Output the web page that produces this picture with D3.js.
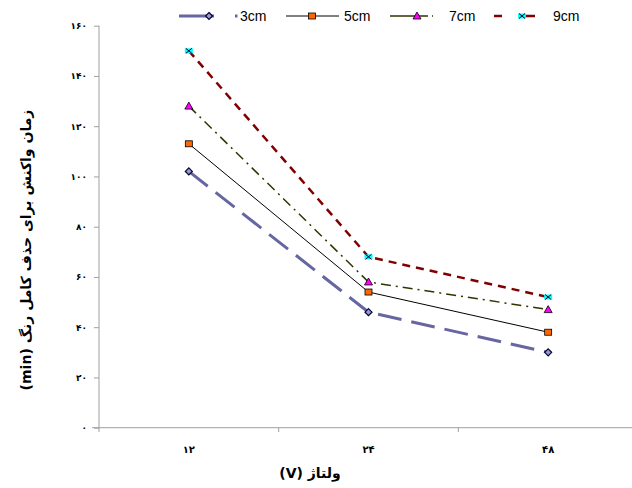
<!DOCTYPE html>
<html><head><meta charset="utf-8">
<script src="https://cdn.jsdelivr.net/npm/d3@7"></script>
<style>body{margin:0;background:#fff}svg{display:block}</style>
</head><body>
<svg id="c" width="632" height="488"></svg>
<script>
const categories = ["۱۲", "۲۴", "۴۸"];
const seriesNames = ["3cm", "5cm", "7cm", "9cm"];
const s3 = [102, 46, 30];
const s5 = [113, 54, 38];
const s7 = [128, 58, 47];
const s9 = [150, 68, 52];
const yTicks = [0, 20, 40, 60, 80, 100, 120, 140, 160];
const yTickLabels = ["٠", "۲٠", "۴٠", "۶٠", "۸٠", "۱٠٠", "۱۲٠", "۱۴٠", "۱۶٠"];
const yTitle = "زمان واکنش برای حذف کامل رنگ (min)";
const xTitle = "ولتاژ (V)";

const series = [
  {name: seriesNames[0], values: s3, color: "#6666a0", width: 3, dash: "24,10", marker: "diamond"},
  {name: seriesNames[1], values: s5, color: "#000000", width: 1, dash: null, marker: "square"},
  {name: seriesNames[2], values: s7, color: "#333300", width: 1.5, dash: "10,5,2,5", marker: "triangle"},
  {name: seriesNames[3], values: s9, color: "#800000", width: 2.5, dash: "8,6", marker: "x"}
];

const svg = d3.select("#c");
const x = d3.scaleBand().domain(categories).range([99, 638]);
const y = d3.scaleLinear().domain([0, 160]).range([427.7, 25.7]);

// axes
const gx = svg.append("g").attr("transform", "translate(0,427.7)")
  .call(d3.axisBottom(x).tickSize(0).tickFormat(""));
gx.select(".domain").attr("stroke", "#a0a0a0").attr("d", "M92,0H632");
svg.append("g").selectAll("line").data(categories).join("line")
  .attr("x1", d => x(d) + x.bandwidth()).attr("x2", d => x(d) + x.bandwidth())
  .attr("y1", 427.7).attr("y2", 432).attr("stroke", "#a0a0a0");
svg.append("g").selectAll("text").data(categories).join("text")
  .attr("x", d => x(d) + x.bandwidth() / 2).attr("y", 453)
  .attr("text-anchor", "middle").attr("font-family", "DejaVu Sans, sans-serif")
  .attr("font-size", 10).attr("font-weight", "bold").text(d => d);

const gy = svg.append("g").attr("transform", "translate(99,0)")
  .call(d3.axisLeft(y).tickValues(yTicks).tickSize(5).tickFormat((d, i) => yTickLabels[i]));
gy.select(".domain").attr("stroke", "#a0a0a0").attr("d", "M0,25.7V432");
gy.selectAll(".tick line").attr("stroke", "#a0a0a0");
gy.selectAll(".tick text").attr("x", -12).attr("font-family", "DejaVu Sans, sans-serif")
  .attr("font-size", 9).attr("font-weight", "bold").attr("fill", "#000");

// titles
svg.append("text").attr("transform", "translate(31,250) rotate(-90)")
  .attr("text-anchor", "middle").attr("direction", "rtl")
  .attr("font-family", "DejaVu Sans, sans-serif")
  .attr("font-size", 14).attr("font-weight", "bold").text(yTitle);
svg.append("text").attr("x", 310).attr("y", 478).attr("text-anchor", "middle")
  .attr("direction", "rtl")
  .attr("font-family", "DejaVu Sans, sans-serif").attr("font-size", 14)
  .attr("font-weight", "bold").text(xTitle);

function drawMarker(g, type, cx, cy) {
  if (type === "diamond") {
    g.append("path").attr("d", `M${cx},${cy-3.5}L${cx+3.5},${cy}L${cx},${cy+3.5}L${cx-3.5},${cy}Z`)
      .attr("fill", "#9999cc").attr("stroke", "#000033").attr("stroke-width", 1.2);
  } else if (type === "square") {
    g.append("rect").attr("x", cx - 3.5).attr("y", cy - 3).attr("width", 7).attr("height", 6)
      .attr("fill", "#ff6600").attr("stroke", "#000").attr("stroke-width", 0.8);
  } else if (type === "triangle") {
    g.append("path").attr("d", `M${cx},${cy-4}L${cx+4},${cy+3}L${cx-4},${cy+3}Z`)
      .attr("fill", "#ff00ff").attr("stroke", "#000").attr("stroke-width", 0.8);
  } else {
    g.append("rect").attr("x", cx - 4).attr("y", cy - 2.5).attr("width", 8).attr("height", 5)
      .attr("fill", "#00ffff");
    g.append("path").attr("d", `M${cx-3},${cy-2.5}L${cx+3},${cy+2.5}M${cx+3},${cy-2.5}L${cx-3},${cy+2.5}`)
      .attr("stroke", "#000033").attr("stroke-width", 1);
  }
}

const line = d3.line().x((d, i) => x(categories[i]) + x.bandwidth() / 2).y(d => y(d));
series.forEach(s => {
  svg.append("path").datum(s.values).attr("d", line).attr("fill", "none")
    .attr("stroke", s.color).attr("stroke-width", s.width)
    .attr("stroke-dasharray", s.dash);
});
series.forEach(s => {
  const g = svg.append("g");
  s.values.forEach((v, i) => drawMarker(g, s.marker, x(categories[i]) + x.bandwidth() / 2, y(v)));
});

// legend
const legendPos = [
  {x1: 179, x2: 214, mx: 209, tx: 240},
  {x1: 286, x2: 339, mx: 312, tx: 344},
  {x1: 390, x2: 433, mx: 417, tx: 449},
  {x1: 494, x2: 535, mx: 522, tx: 553}
];
const ly = 16;
series.forEach((s, i) => {
  const p = legendPos[i];
  const g = svg.append("g");
  if (i === 0) {
    g.append("line").attr("x1", p.x1).attr("x2", p.x2).attr("y1", ly).attr("y2", ly)
      .attr("stroke", s.color).attr("stroke-width", 3);
    g.append("line").attr("x1", 235).attr("x2", 237.5).attr("y1", ly).attr("y2", ly)
      .attr("stroke", s.color).attr("stroke-width", 3);
  } else {
    g.append("line").attr("x1", p.x1).attr("x2", p.x2).attr("y1", ly).attr("y2", ly)
      .attr("stroke", s.color).attr("stroke-width", s.width)
      .attr("stroke-dasharray", i === 2 ? "38,4,4,0" : i === 3 ? "8,20,6,0" : null);
  }
  drawMarker(g, s.marker, p.mx, ly);
  g.append("text").attr("x", p.tx).attr("y", ly + 5).attr("font-family", "Liberation Sans, Arial, sans-serif")
    .attr("font-size", 14).text(s.name);
});
</script>
</body></html>
